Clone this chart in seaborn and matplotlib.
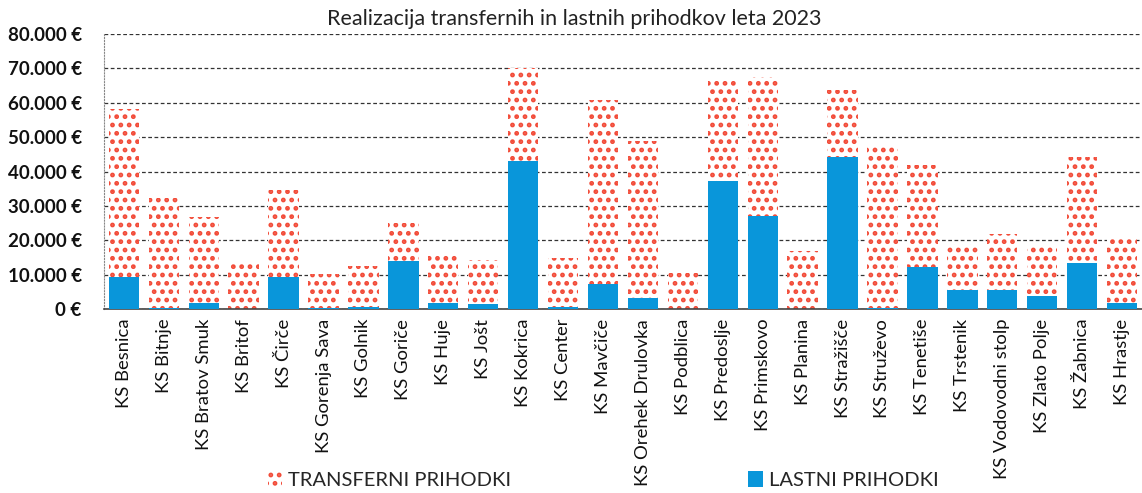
import matplotlib
matplotlib.use("Agg")
import matplotlib.pyplot as plt
import seaborn as sns
import pandas as pd
from matplotlib.patches import Patch
from matplotlib.ticker import FuncFormatter

# data (EUR)
skupnosti = ["KS Besnica", "KS Bitnje", "KS Bratov Smuk", "KS Britof", "KS Čirče",
             "KS Gorenja Sava", "KS Golnik", "KS Goriče", "KS Huje", "KS Jošt",
             "KS Kokrica", "KS Center", "KS Mavčiče", "KS Orehek Drulovka", "KS Podblica",
             "KS Predoslje", "KS Primskovo", "KS Planina", "KS Stražišče", "KS Struževo",
             "KS Tenetiše", "KS Trstenik", "KS Vodovodni stolp", "KS Zlato Polje", "KS Žabnica",
             "KS Hrastje"]
lastni = [9400, 300, 1900, 0, 9400,
          300, 500, 14100, 1900, 1500,
          43200, 500, 7200, 3200, 0,
          37300, 27000, 0, 44200, 300,
          12200, 5600, 5600, 3900, 13400,
          1700]
transferni = [48900, 32000, 24800, 13100, 25300,
              9900, 11900, 10900, 14100, 12900,
              26900, 14500, 53700, 45800, 10500,
              29000, 40500, 17000, 19400, 47000,
              29800, 13200, 16200, 14300, 30700,
              19500]

df = pd.DataFrame({"ks": skupnosti, "lastni": lastni, "transferni": transferni})
df["skupaj"] = df["lastni"] + df["transferni"]

red = "#f24b38"
blue = "#0996da"

sns.set_style("white")
plt.rcParams["font.family"] = ["Lato", "DejaVu Sans"]
plt.rcParams["hatch.linewidth"] = 2.2

fig = plt.figure(figsize=(11.42, 4.93), dpi=100)
ax = fig.add_axes([0.091, 0.373, 0.909, 0.558])

sns.barplot(data=df, x="ks", y="skupaj", color="white", edgecolor=red, saturation=1,
            linewidth=0, hatch="..", width=0.76, ax=ax, zorder=2)
sns.barplot(data=df, x="ks", y="lastni", color=blue, linewidth=0, saturation=1,
            width=0.76, ax=ax, zorder=3)
for p in ax.patches[len(df):]:
    p.set_hatch(None)

ax.set_ylim(0, 80000)
ax.set_xlim(-0.5, len(df) - 0.5)
ax.set_yticks(range(0, 80001, 10000))
ax.yaxis.set_major_formatter(FuncFormatter(lambda v, _: f"{int(v):,} €".replace(",", ".")))
ax.grid(axis="y", color="#333333", linestyle=(0, (3, 2)), linewidth=0.9, zorder=0)
ax.set_axisbelow(True)

for s in ["top", "right"]:
    ax.spines[s].set_visible(False)
ax.spines["left"].set_color("#888888")
ax.spines["left"].set_linestyle(":")
ax.spines["left"].set_linewidth(0.8)
ax.spines["bottom"].set_color("#444444")
ax.spines["bottom"].set_linewidth(1.2)

ax.tick_params(axis="y", labelsize=13.5, length=0, pad=16, labelcolor="#111111")
ax.tick_params(axis="x", labelsize=13.3, length=0, pad=7, labelcolor="#111111")
plt.setp(ax.get_xticklabels(), rotation=90, ha="center", va="top")
for lab in ax.get_yticklabels():
    lab.set_fontweight("bold")
ax.set_xlabel("")
ax.set_ylabel("")

fig.text(0.503, 0.962, "Realizacija transfernih in lastnih prihodkov leta 2023",
         ha="center", va="center", fontsize=15.5, color="#222222")

handles = [Patch(facecolor="white", edgecolor=red, hatch="..", linewidth=0, label="TRANSFERNI PRIHODKI"),
           Patch(facecolor=blue, linewidth=0, label="LASTNI PRIHODKI")]
fig.legend(handles=handles, loc="center", bbox_to_anchor=(0.528, 0.026), ncol=2,
           frameon=False, fontsize=14.5, handlelength=0.7, handleheight=0.8,
           handletextpad=0.3, columnspacing=11.8)

fig.savefig("out.png", dpi=100)
